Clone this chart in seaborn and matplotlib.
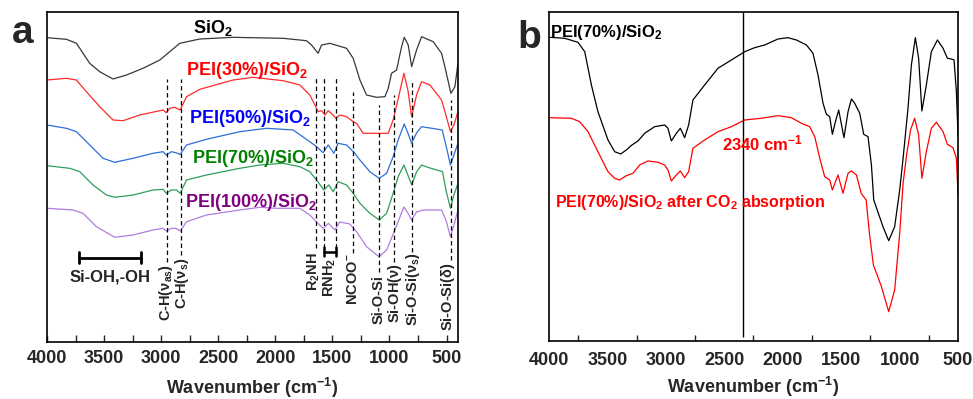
import numpy as np
import pandas as pd
import matplotlib
matplotlib.use('Agg')
import matplotlib.pyplot as plt
from matplotlib.ticker import MultipleLocator
import seaborn as sns

sns.set_style('ticks')
plt.rcParams['font.family'] = ['Liberation Sans', 'DejaVu Sans']
plt.rcParams['font.weight'] = 'bold'
plt.rcParams['mathtext.fontset'] = 'custom'
plt.rcParams['mathtext.rm'] = 'Liberation Sans:bold'
plt.rcParams['mathtext.it'] = 'Liberation Sans:italic:bold'
plt.rcParams['mathtext.bf'] = 'Liberation Sans:bold'
plt.rcParams['mathtext.default'] = 'rm'

# ---------------- Panel a data (wavenumber, transmittance a.u.) ----------------
sio2_wn = [4000, 3830, 3742, 3684, 3626, 3538, 3422, 3304, 3159, 3012, 2837, 2662, 2372, 1932,
           1727, 1683, 1625, 1595, 1522, 1376, 1318, 1259, 1201, 1113, 1040, 1011, 982, 938,
           894, 871, 836, 806, 763, 719, 617, 544, 515, 462, 427, 400]
sio2_t = [304.3, 302.7, 298.7, 288.7, 278.7, 270.3, 263, 267, 273.7, 282, 298.7, 303, 304.7, 303.7,
          301.3, 297, 288.7, 297, 298.7, 293.7, 283.7, 262, 247, 244.7, 245.3, 253.7, 268.7, 272,
          295.3, 304.7, 297, 275.3, 292, 305.3, 300.3, 288.7, 275.3, 248.7, 255.3, 278.7]

pei30_wn = [4000, 3830, 3742, 3655, 3538, 3422, 3334, 3188, 2983, 2957, 2925, 2881, 2834, 2778,
            2662, 2370, 2195, 1932, 1785, 1698, 1654, 1625, 1595, 1565, 1537, 1499, 1470, 1435,
            1376, 1318, 1288, 1231, 1172, 1011, 968, 924, 874, 839, 806, 763, 719, 646, 544,
            506, 466, 436, 400]
pei30_t = [262, 263.7, 262, 250.3, 235.3, 222, 221.3, 227, 232, 229.3, 233.7, 234.7, 232, 245.3,
           252.7, 262, 264.7, 261.3, 257, 247, 237, 230.3, 231.3, 227, 231.3, 227.7, 223.7, 227,
           225.3, 220.3, 218.7, 208.7, 208.7, 208.7, 222, 243, 268.7, 252, 225.3, 247, 260.3, 257, 242,
           227, 210.3, 217, 230.3]

pei50_wn = [4000, 3830, 3742, 3626, 3509, 3407, 3246, 3071, 2983, 2955, 2910, 2872, 2833, 2778,
            2603, 2311, 2077, 1844, 1698, 1639, 1581, 1537, 1487, 1450, 1376, 1303, 1259, 1172,
            1090, 1025, 968, 924, 871, 839, 806, 763, 719, 646, 538, 506, 466, 436, 400]
pei50_t = [217, 213.7, 210.3, 197, 183.7, 179.7, 183.7, 188.7, 190.3, 187, 190.3, 189.3, 187.5, 197,
           202.7, 210.3, 213.7, 212, 200.3, 195.3, 189.3, 197, 188.7, 198.7, 197, 188.7, 182, 170.3,
           163.7, 168.7, 185.3, 202, 218, 209, 198.7, 209, 215.3, 214, 212, 197, 177, 187, 198.7]

pei70_wn = [4000, 3801, 3713, 3597, 3479, 3407, 3246, 3071, 2983, 2955, 2910, 2866, 2833, 2778,
            2603, 2311, 2136, 1932, 1785, 1698, 1639, 1575, 1531, 1493, 1450, 1376, 1318, 1259,
            1172, 1090, 1025, 968, 924, 874, 839, 806, 763, 719, 646, 535, 506, 466, 436, 400]
pei70_t = [176.3, 173.7, 170.3, 157, 147, 144.7, 147, 152, 152.7, 148.7, 152, 152, 148.7, 162,
           167, 173.7, 177, 178.7, 175.3, 170.3, 162, 152, 157, 150.3, 160.3, 157, 148.7, 138.7,
           128.7, 122, 128.7, 148.7, 165.3, 177, 167, 157, 170, 177, 174, 170.3, 152, 133.7, 147, 158.7]

pei100_wn = [4000, 3772, 3684, 3567, 3407, 3246, 3071, 2983, 2955, 2910, 2872, 2833, 2778, 2603,
             2311, 2136, 1990, 1785, 1698, 1639, 1579, 1535, 1479, 1435, 1348, 1288, 1201, 1093,
             1025, 953, 874, 839, 806, 763, 705, 544, 506, 466, 436, 400]
pei100_t = [133.7, 132, 128.7, 115.3, 104.7, 107, 112, 113.7, 111, 113.7, 113.7, 111, 120.3, 127,
            132, 134.7, 133.7, 133.7, 127, 120, 113.5, 118.7, 112, 120, 118, 110.3, 95.3, 85.3,
            92, 112, 135, 129, 122, 130, 132, 132, 122, 105.3, 117, 132]

# band assignments (dashed markers): wavenumber, top, bottom
band_wn = [2950, 2830, 1640, 1570, 1470, 1320, 1090, 960, 800, 460]
band_top = [263, 263, 266, 266, 266, 250, 237, 247, 260, 242]
band_bot = [80, 87, 94, 94, 94, 89, 70, 80, 90, 82]

band_labels = ['C-H($\\nu_{as}$)', 'C-H($\\nu_{s}$)', 'R$_2$NH', 'RNH$_2$', 'NCOO$^{-}$',
               'Si-O-Si', 'Si-OH($\\nu$)', 'Si-O-Si($\\nu_{s}$)', 'Si-O-Si($\\delta$)']
band_label_wn = [2955, 2815, 1665, 1520, 1320, 1092, 955, 797, 486]
band_label_y = [78, 84, 90, 84, 89, 67, 79, 90, 80]

# ---------------- Panel b data ----------------
b70_wn = [4000, 3866, 3752, 3694, 3637, 3581, 3495, 3438, 3386, 3338, 3290, 3238, 3181, 3096,
          3010, 2982, 2953, 2910, 2876, 2839, 2805, 2768, 2668, 2554, 2439, 2325, 2240, 2154,
          2040, 1955, 1883, 1797, 1741, 1698, 1655, 1626, 1598, 1575, 1549, 1521, 1476, 1441,
          1412, 1384, 1341, 1307, 1270, 1241, 1221, 1142, 1093, 1042, 999, 970, 928, 899, 865,
          837, 809, 771, 728, 676, 628, 591, 557, 534, 514, 500]
b70_t = [303.7, 302.7, 298.7, 289.3, 256, 229.3, 201, 189.3, 187, 191, 196, 200, 207.7, 214.3,
         216, 212.7, 200, 207.7, 212.7, 203.3, 216, 241, 256, 272.7, 281, 289.3, 293.3, 296,
         302, 303.3, 301, 296, 287.7, 266, 237.7, 226.7, 224.3, 206.7, 219.3, 231, 203.3, 229.3,
         242, 237.7, 227.7, 206.7, 204.3, 176, 141, 114.3, 100.3, 114.3, 151, 182.7, 232.7, 276, 303.3,
         282.7, 230, 256, 289.3, 301, 292.7, 282.7, 282, 281, 249.3, 206]

bco2_wn = [4000, 3808, 3737, 3666, 3581, 3495, 3438, 3395, 3338, 3281, 3224, 3153, 3067, 3010,
           2982, 2953, 2910, 2876, 2839, 2805, 2768, 2668, 2554, 2439, 2325, 2183, 2040, 1926,
           1840, 1769, 1726, 1683, 1641, 1598, 1575, 1527, 1484, 1441, 1412, 1369, 1329, 1286,
           1258, 1224, 1155, 1093, 1042, 999, 970, 938, 906, 871, 837, 809, 771, 728, 685, 628,
           591, 543, 514, 500]
bco2_t = [223.3, 222.7, 219.3, 209.3, 189.3, 169.3, 162.7, 161, 165.3, 167.7, 176, 180, 178.7, 176,
          171, 160, 166, 170, 163.3, 169.3, 192.7, 201, 209.3, 214.3, 221, 222.7, 225.3, 223.3,
          217.7, 214.3, 204.3, 182.7, 164.3, 161, 151, 166, 147.7, 167.7, 170, 166, 147.7, 141,
          107.7, 76, 54.3, 29.3, 51, 107.7, 157.7, 187.7, 211, 222.7, 206, 162.7, 189.3, 212.7, 218.7, 209.3,
          196.7, 193.3, 182.7, 146]

co2_band = [2340]

# ---------------- Figure ----------------
fig = plt.figure(figsize=(9.73, 3.99), dpi=100)
axa = fig.add_axes([0.0483, 0.1429, 0.4224, 0.827])
axb = fig.add_axes([0.5642, 0.1454, 0.4204, 0.8246])

series_a = [
    (sio2_wn, sio2_t, '#383838', 'SiO$_2$', '#000000', 2547, 309.5),
    (pei30_wn, pei30_t, '#ff2b2b', 'PEI(30%)/SiO$_2$', '#ff0000', 2253, 267),
    (pei50_wn, pei50_t, '#2c6fd8', 'PEI(50%)/SiO$_2$', '#0000ff', 2224, 219.3),
    (pei70_wn, pei70_t, '#2e9e5b', 'PEI(70%)/SiO$_2$', '#008000', 2197, 178.7),
    (pei100_wn, pei100_t, '#b27ce0', 'PEI(100%)/SiO$_2$', '#800080', 2215, 135.3),
]
for wn, t, c, lab, tc, lx, ly in series_a:
    df = pd.DataFrame({'wn': wn, 't': t})
    sns.lineplot(data=df, x='wn', y='t', ax=axa, color=c, lw=0.9, sort=False, estimator=None)
    axa.text(lx, ly, lab, color=tc, fontsize=13, fontweight='bold', ha='center', va='baseline')

axa.vlines(band_wn, band_bot, band_top, colors='k', linestyles=(0, (3.5, 2.5)), lw=0.9)
for s, x, y in zip(band_labels, band_label_wn, band_label_y):
    axa.text(x, y, s, rotation=90, ha='center', va='top', fontsize=10.5, fontweight='bold')

# brackets
axa.plot([3721, 3173], [84.3, 84.3], color='k', lw=2)
axa.plot([3721, 3721], [79, 90], color='k', lw=2)
axa.plot([3173, 3173], [79, 90], color='k', lw=2)
axa.text(3450, 65, 'Si-OH,-OH', ha='center', va='center', fontsize=12, fontweight='bold')
axa.plot([1570, 1470], [90, 90], color='k', lw=1.8)
axa.plot([1570, 1570], [86, 95], color='k', lw=1.8)
axa.plot([1470, 1470], [86, 95], color='k', lw=1.8)

axa.set_xlim(4000, 400)
axa.set_ylim(0, 330)

df70 = pd.DataFrame({'wn': b70_wn, 't': b70_t})
dfco2 = pd.DataFrame({'wn': bco2_wn, 't': bco2_t})
sns.lineplot(data=df70, x='wn', y='t', ax=axb, color='black', lw=0.9, sort=False, estimator=None)
sns.lineplot(data=dfco2, x='wn', y='t', ax=axb, color='#ff0000', lw=0.9, sort=False, estimator=None)
axb.vlines(co2_band, 4, 329, colors='black', lw=1)
axb.text(3994, 303.7, 'PEI(70%)/SiO$_2$', color='black', fontsize=12, fontweight='bold', ha='left', va='baseline')
axb.text(2516, 190.3, '2340 cm$^{-1}$', color='#ff0000', fontsize=12, fontweight='bold', ha='left', va='baseline')
axb.text(3951, 133.7, 'PEI(70%)/SiO$_2$ after CO$_2$ absorption', color='#ff0000', fontsize=11.5,
         fontweight='bold', ha='left', va='baseline')
axb.set_xlim(4000, 500)
axb.set_ylim(0, 329)

for ax, lp in ((axa, 6), (axb, 4)):
    ax.set_xticks([4000, 3500, 3000, 2500, 2000, 1500, 1000, 500])
    ax.xaxis.set_minor_locator(MultipleLocator(250))
    ax.set_yticks([])
    ax.set_ylabel('')
    ax.set_xlabel('Wavenumber (cm$^{-1}$)', fontsize=13, fontweight='bold', labelpad=lp)
    for sp in ax.spines.values():
        sp.set_visible(True)
        sp.set_linewidth(1.2)
        sp.set_color('black')
    for lbl in ax.get_xticklabels():
        lbl.set_fontweight('bold')

axa.tick_params(axis='x', which='both', direction='in', length=5, width=1, labelsize=13, pad=6)
axb.tick_params(axis='x', which='major', direction='in', length=0, labelsize=13, pad=8)
axb.tick_params(axis='x', which='minor', direction='in', length=4, width=1)

fig.text(12 / 973, 1 - 43 / 399, 'a', fontsize=28, fontweight='bold', ha='left', va='baseline')
fig.text(517 / 973, 1 - 48 / 399, 'b', fontsize=28, fontweight='bold', ha='left', va='baseline')

fig.savefig('out.png', dpi=100)
